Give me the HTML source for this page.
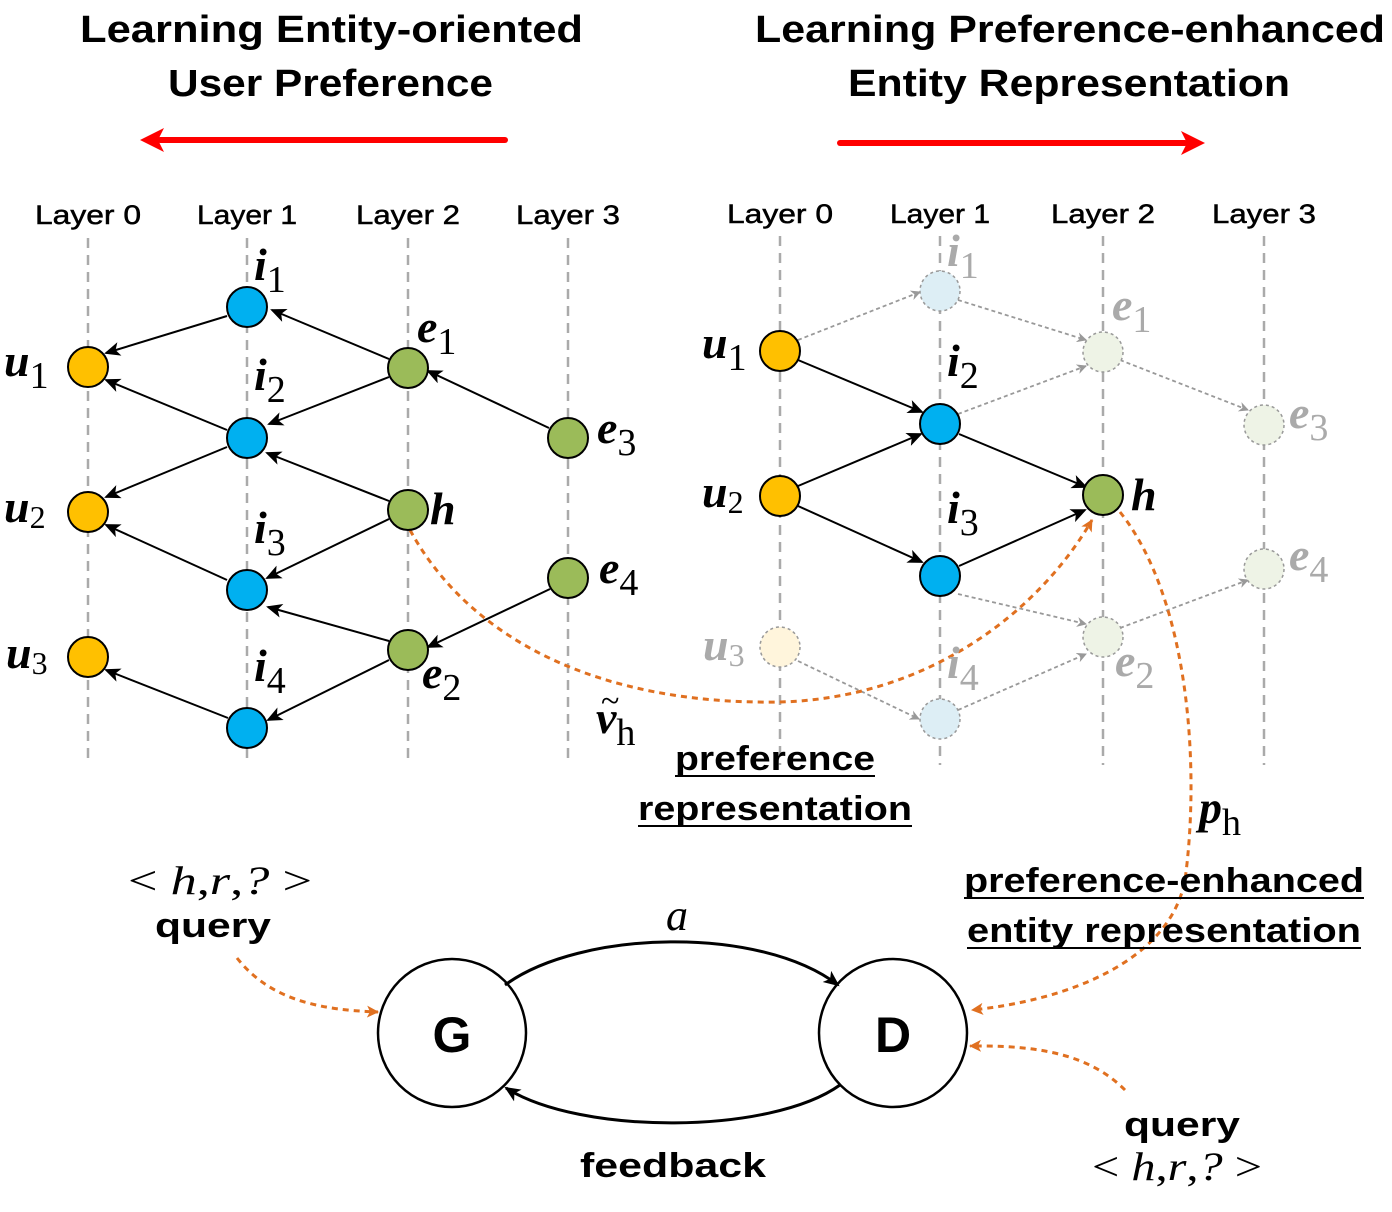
<!DOCTYPE html>
<html><head><meta charset="utf-8"><style>
html,body{margin:0;padding:0;background:#fff}
svg{display:block}
.t{font-family:"Liberation Sans",sans-serif;font-weight:bold;fill:#000}
.m{font-family:"Liberation Serif",serif;font-style:italic;font-weight:bold}
.s{font-family:"Liberation Serif",serif;font-style:normal;font-weight:normal}
</style></head><body>
<svg width="1392" height="1212" viewBox="0 0 1392 1212" xmlns="http://www.w3.org/2000/svg">
<defs>
<marker id="ab" markerWidth="16" markerHeight="16" refX="14" refY="8" orient="auto" markerUnits="userSpaceOnUse" viewBox="0 0 16 16"><path d="M0,1 L16,8 L0,15 L4,8z" fill="#000"/></marker>
<marker id="g" markerWidth="10" markerHeight="10" refX="9" refY="5" orient="auto" markerUnits="userSpaceOnUse" viewBox="0 0 10 10"><path d="M0,0 L10,5 L0,10 L3,5z" fill="#999"/></marker>
<marker id="o" markerWidth="12" markerHeight="12" refX="11" refY="6" orient="auto" markerUnits="userSpaceOnUse" viewBox="0 0 12 12"><path d="M0,0 L12,6 L0,12 L3,6z" fill="#e07020"/></marker>
</defs>
<text class="t" x="80" y="42" font-size="38" textLength="503" lengthAdjust="spacingAndGlyphs">Learning Entity-oriented</text>
<text class="t" x="168" y="96" font-size="38" textLength="325" lengthAdjust="spacingAndGlyphs">User Preference</text>
<text class="t" x="755" y="42" font-size="38" textLength="630" lengthAdjust="spacingAndGlyphs">Learning Preference-enhanced</text>
<text class="t" x="848" y="96" font-size="38" textLength="442" lengthAdjust="spacingAndGlyphs">Entity Representation</text>
<line x1="505" y1="140" x2="160" y2="140" stroke="#f00" stroke-width="6" stroke-linecap="round"/>
<path d="M140,140 L164,128 L158,140 L164,152z" fill="#f00"/>
<line x1="840" y1="143" x2="1185" y2="143" stroke="#f00" stroke-width="6" stroke-linecap="round"/>
<path d="M1205,143 L1181,131 L1187,143 L1181,155z" fill="#f00"/>
<g font-family="Liberation Sans,sans-serif" font-size="27" fill="#000" stroke="#000" stroke-width="0.5">
<text x="88" y="224" text-anchor="middle" textLength="106" lengthAdjust="spacingAndGlyphs">Layer 0</text>
<text x="247" y="224" text-anchor="middle" textLength="100" lengthAdjust="spacingAndGlyphs">Layer 1</text>
<text x="408" y="224" text-anchor="middle" textLength="104" lengthAdjust="spacingAndGlyphs">Layer 2</text>
<text x="568" y="224" text-anchor="middle" textLength="104" lengthAdjust="spacingAndGlyphs">Layer 3</text>
<text x="780" y="223" text-anchor="middle" textLength="106" lengthAdjust="spacingAndGlyphs">Layer 0</text>
<text x="940" y="223" text-anchor="middle" textLength="100" lengthAdjust="spacingAndGlyphs">Layer 1</text>
<text x="1103" y="223" text-anchor="middle" textLength="104" lengthAdjust="spacingAndGlyphs">Layer 2</text>
<text x="1264" y="223" text-anchor="middle" textLength="104" lengthAdjust="spacingAndGlyphs">Layer 3</text>
</g>
<g stroke="#aaa" stroke-width="2.5" stroke-dasharray="10,7">
<line x1="88" y1="238" x2="88" y2="765"/><line x1="247" y1="238" x2="247" y2="765"/>
<line x1="408" y1="238" x2="408" y2="765"/><line x1="568" y1="238" x2="568" y2="765"/>
<line x1="780" y1="236" x2="780" y2="765"/><line x1="940" y1="236" x2="940" y2="765"/>
<line x1="1103" y1="236" x2="1103" y2="765"/><line x1="1264" y1="236" x2="1264" y2="765"/>
</g>
<g stroke="#000" stroke-width="2" marker-end="url(#ab)">
<line x1="227" y1="316" x2="106" y2="353"/>
<line x1="389" y1="359" x2="272" y2="310"/>
<line x1="389" y1="377" x2="269" y2="424"/>
<line x1="227" y1="430" x2="106" y2="380"/>
<line x1="549" y1="428" x2="428" y2="371"/>
<line x1="227" y1="447" x2="106" y2="497"/>
<line x1="389" y1="501" x2="267" y2="453"/>
<line x1="389" y1="519" x2="267" y2="578"/>
<line x1="227" y1="580" x2="106" y2="525"/>
<line x1="389" y1="641" x2="268" y2="607"/>
<line x1="550" y1="589" x2="428" y2="647"/>
<line x1="389" y1="660" x2="268" y2="720"/>
<line x1="228" y1="718" x2="106" y2="670"/>
</g>
<g stroke="#000" stroke-width="2" marker-end="url(#ab)">
<line x1="798" y1="360" x2="922" y2="412"/>
<line x1="798" y1="486" x2="921" y2="434"/>
<line x1="798" y1="506" x2="922" y2="562"/>
<line x1="959" y1="434" x2="1086" y2="487"/>
<line x1="959" y1="566" x2="1085" y2="510"/>
</g>
<g stroke="#999" stroke-width="1.8" stroke-dasharray="4,3" marker-end="url(#g)">
<line x1="798" y1="340" x2="920" y2="292"/>
<line x1="958" y1="300" x2="1086" y2="340"/>
<line x1="958" y1="414" x2="1086" y2="366"/>
<line x1="1120" y1="360" x2="1248" y2="410"/>
<line x1="958" y1="594" x2="1086" y2="624"/>
<line x1="1120" y1="628" x2="1248" y2="580"/>
<line x1="798" y1="661" x2="919" y2="719"/>
<line x1="958" y1="710" x2="1086" y2="654"/>
</g>
<g fill="none" stroke="#e07020" stroke-width="3" stroke-dasharray="6,5">
<path d="M410,530 C470,640 600,705 780,702 C930,698 1040,610 1092,520" marker-end="url(#o)"/>
<path d="M1120,512 C1190,600 1200,770 1185,880 C1170,960 1070,1000 972,1010" marker-end="url(#o)"/>
<path d="M237,958 C270,1000 320,1010 378,1012" marker-end="url(#o)"/>
<path d="M1125,1090 C1090,1055 1040,1045 970,1046" marker-end="url(#o)"/>
</g>
<g stroke="#000" stroke-width="2">
<ellipse cx="247" cy="307" rx="20" ry="20" fill="#00b0f0"/>
<ellipse cx="88" cy="367" rx="20" ry="20" fill="#ffc000"/>
<ellipse cx="408" cy="368" rx="20" ry="20" fill="#9bbb59"/>
<ellipse cx="247" cy="438" rx="20" ry="20" fill="#00b0f0"/>
<ellipse cx="568" cy="438" rx="20" ry="20" fill="#9bbb59"/>
<ellipse cx="88" cy="512" rx="20" ry="20" fill="#ffc000"/>
<ellipse cx="408" cy="510" rx="20" ry="20" fill="#9bbb59"/>
<ellipse cx="247" cy="590" rx="20" ry="20" fill="#00b0f0"/>
<ellipse cx="568" cy="578" rx="20" ry="20" fill="#9bbb59"/>
<ellipse cx="88" cy="657" rx="20" ry="20" fill="#ffc000"/>
<ellipse cx="408" cy="650" rx="20" ry="20" fill="#9bbb59"/>
<ellipse cx="247" cy="728" rx="20" ry="20" fill="#00b0f0"/>
<ellipse cx="780" cy="351" rx="20" ry="20" fill="#ffc000"/>
<ellipse cx="940" cy="424" rx="20" ry="20" fill="#00b0f0"/>
<ellipse cx="780" cy="496" rx="20" ry="20" fill="#ffc000"/>
<ellipse cx="1103" cy="495" rx="20" ry="20" fill="#9bbb59"/>
<ellipse cx="940" cy="576" rx="20" ry="20" fill="#00b0f0"/>
</g>
<g stroke="#999" stroke-width="1.5" stroke-dasharray="3,3">
<ellipse cx="940" cy="291" rx="20" ry="20" fill="#ddeef5"/>
<ellipse cx="1103" cy="352" rx="20" ry="20" fill="#eef3e6"/>
<ellipse cx="1264" cy="425" rx="20" ry="20" fill="#eef3e6"/>
<ellipse cx="1264" cy="569" rx="20" ry="20" fill="#eef3e6"/>
<ellipse cx="780" cy="647" rx="20" ry="20" fill="#fff5dc"/>
<ellipse cx="1103" cy="637" rx="20" ry="20" fill="#eef3e6"/>
<ellipse cx="940" cy="719" rx="20" ry="20" fill="#ddeef5"/>
</g>
<g class="m" font-size="46" fill="#000">
<text x="254" y="280">i<tspan class="s" font-size="38" dy="12">1</tspan></text>
<text x="4" y="376">u<tspan class="s" font-size="38" dy="12">1</tspan></text>
<text x="417" y="342">e<tspan class="s" font-size="38" dy="12">1</tspan></text>
<text x="254" y="390">i<tspan class="s" font-size="38" dy="12">2</tspan></text>
<text x="597" y="443">e<tspan class="s" font-size="38" dy="12">3</tspan></text>
<text x="4" y="522">u<tspan class="s" font-size="32" dy="6">2</tspan></text>
<text x="430" y="524">h</text>
<text x="254" y="543">i<tspan class="s" font-size="38" dy="12">3</tspan></text>
<text x="599" y="583">e<tspan class="s" font-size="38" dy="12">4</tspan></text>
<text x="6" y="668">u<tspan class="s" font-size="32" dy="6">3</tspan></text>
<text x="422" y="688">e<tspan class="s" font-size="38" dy="12">2</tspan></text>
<text x="254" y="681">i<tspan class="s" font-size="38" dy="12">4</tspan></text>
<text x="702" y="358">u<tspan class="s" font-size="38" dy="12">1</tspan></text>
<text x="947" y="376">i<tspan class="s" font-size="38" dy="12">2</tspan></text>
<text x="702" y="507">u<tspan class="s" font-size="32" dy="6">2</tspan></text>
<text x="1131" y="510">h</text>
<text x="947" y="523">i<tspan class="s" font-size="38" dy="12">3</tspan></text>
<text x="596" y="733">v<tspan class="s" font-size="38" dy="12" font-style="italic">h</tspan></text>
<text x="601" y="712" class="s" font-size="34">~</text>
<text x="1199" y="823">p<tspan class="s" font-size="38" dy="12" font-style="italic">h</tspan></text>
</g>
<g class="m" font-size="46" fill="#aaa">
<text x="947" y="266">i<tspan class="s" font-size="38" dy="12">1</tspan></text>
<text x="1112" y="320">e<tspan class="s" font-size="38" dy="12">1</tspan></text>
<text x="1289" y="428">e<tspan class="s" font-size="38" dy="12">3</tspan></text>
<text x="1289" y="570">e<tspan class="s" font-size="38" dy="12">4</tspan></text>
<text x="703" y="660">u<tspan class="s" font-size="32" dy="6">3</tspan></text>
<text x="1115" y="676">e<tspan class="s" font-size="38" dy="12">2</tspan></text>
<text x="947" y="678">i<tspan class="s" font-size="38" dy="12">4</tspan></text>
</g>
<g class="t" font-size="34">
<text x="775" y="770" text-anchor="middle" textLength="200" lengthAdjust="spacingAndGlyphs">preference</text>
<line x1="675" y1="776" x2="875" y2="776" stroke="#000" stroke-width="2"/>
<text x="775" y="820" text-anchor="middle" textLength="274" lengthAdjust="spacingAndGlyphs">representation</text>
<line x1="638" y1="826" x2="912" y2="826" stroke="#000" stroke-width="2"/>
<text x="1164" y="892" text-anchor="middle" textLength="400" lengthAdjust="spacingAndGlyphs">preference-enhanced</text>
<line x1="964" y1="898" x2="1364" y2="898" stroke="#000" stroke-width="2"/>
<text x="1164" y="942" text-anchor="middle" textLength="394" lengthAdjust="spacingAndGlyphs">entity representation</text>
<line x1="967" y1="948" x2="1361" y2="948" stroke="#000" stroke-width="2"/>
<text x="213" y="937" text-anchor="middle" textLength="116" lengthAdjust="spacingAndGlyphs">query</text>
<text x="1182" y="1136" text-anchor="middle" textLength="116" lengthAdjust="spacingAndGlyphs">query</text>
<text x="673" y="1177" text-anchor="middle" textLength="186" lengthAdjust="spacingAndGlyphs">feedback</text>
</g>
<g font-family="Liberation Serif,serif" font-size="40" fill="#000">
<text x="128" y="894" textLength="184" lengthAdjust="spacingAndGlyphs">&lt; <tspan font-style="italic">h</tspan>,<tspan font-style="italic">r</tspan>,<tspan font-style="italic">?</tspan> &gt;</text>
<text x="1092" y="1180" textLength="170" lengthAdjust="spacingAndGlyphs">&lt; <tspan font-style="italic">h</tspan>,<tspan font-style="italic">r</tspan>,<tspan font-style="italic">?</tspan> &gt;</text>
<text x="666" y="930" font-style="italic" font-size="44">a</text>
</g>
<circle cx="452" cy="1033" r="74" fill="#fff" stroke="#000" stroke-width="2.5"/>
<circle cx="893" cy="1033" r="74" fill="#fff" stroke="#000" stroke-width="2.5"/>
<text class="t" x="452" y="1052" font-size="50" text-anchor="middle">G</text>
<text class="t" x="893" y="1052" font-size="50" text-anchor="middle">D</text>
<path d="M505,985 C580,930 760,925 838,985" fill="none" stroke="#000" stroke-width="3" marker-end="url(#ab)"/>
<path d="M840,1085 C770,1135 580,1135 506,1088" fill="none" stroke="#000" stroke-width="3" marker-end="url(#ab)"/>
</svg>
</body></html>
